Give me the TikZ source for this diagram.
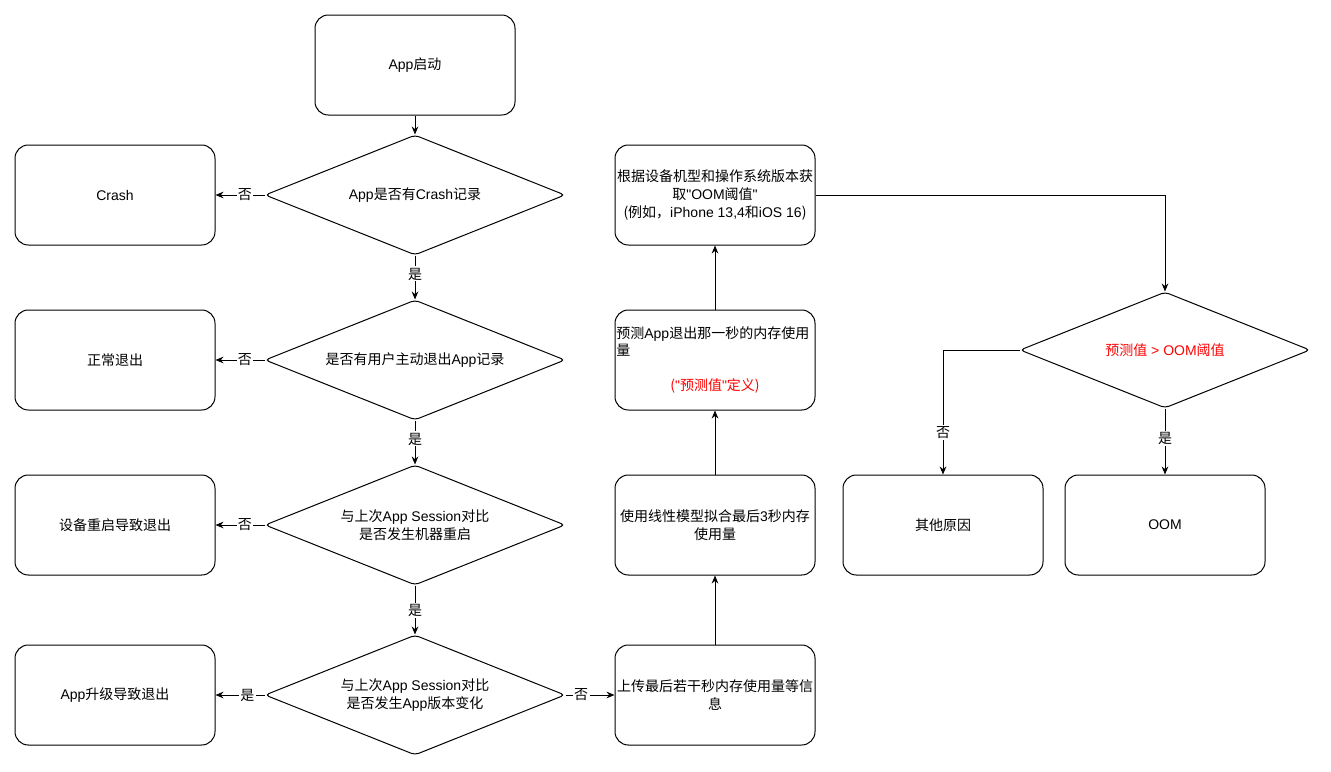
\documentclass[tikz,border=0pt]{standalone}
\usepackage{fontspec}
\setmainfont{Noto Sans CJK SC}
\newfontfamily\latfont{Liberation Sans}
\newcommand\latn[1]{{\latfont #1}}
\usetikzlibrary{shapes.geometric,arrows.meta}
\begin{document}
\begin{tikzpicture}[x=0.75pt,y=-0.75pt,
  every node/.style={font=\fontsize{10.5}{13.2}\selectfont},
  box/.style={draw, line width=0.75pt, rounded corners=10pt, minimum width=150pt, minimum height=75pt, align=center, inner sep=1pt},
  dia/.style={draw, line width=0.75pt, shape=diamond, aspect=2.5, rounded corners=3pt, minimum width=225pt, minimum height=90pt, inner sep=0pt, align=center},
  arr/.style={-{Stealth[length=6pt,width=5pt]}, line width=0.75pt},
  lbl/.style={fill=white, inner sep=1pt}
]
\useasboundingbox (0,0) rectangle (1331,771);
% left column
\node[box] (start) at (415,65) {\latn{App}启动};
\node[dia] (d1) at (415,195) {\latn{App}是否有\latn{Crash}记录};
\node[box] (crash) at (115,195) {\latn{Crash}};
\node[dia] (d2) at (415,360) {是否有用户主动退出\latn{App}记录};
\node[box] (normal) at (115,360) {正常退出};
\node[dia] (d3) at (415,525) {与上次\latn{App Session}对比\\是否发生机器重启};
\node[box] (reboot) at (115,525) {设备重启导致退出};
\node[dia] (d4) at (415,695) {与上次\latn{App Session}对比\\是否发生\latn{App}版本变化};
\node[box] (upgrade) at (115,695) {\latn{App}升级导致退出};
% middle column
\node[box] (upload) at (715,695) {上传最后若干秒内存使用量等信\\息};
\node[box] (fit) at (715,525) {使用线性模型拟合最后\latn{3}秒内存\\使用量};
\node[box, text width=148pt, align=left] (predict) at (715,360) {预测\latn{App}退出那一秒的内存使用\\量\\[13.2pt]\makebox[\linewidth]{\color{red}(\latn{"}预测值\latn{"}定义)}};
\node[box] (thresh) at (715,195) {根据设备机型和操作系统版本获\\取\latn{"OOM}阈值\latn{"}\\(例如，\latn{iPhone 13,4}和\latn{iOS 16})};
% right
\node[dia, minimum width=217.5pt, minimum height=87pt] (d5) at (1165,350) {\color{red}预测值\latn{ > OOM}阈值};
\node[box] (other) at (943,525) {其他原因};
\node[box] (oom) at (1165,525) {\latn{OOM}};
% edges
\draw[arr] (start.south) -- (d1.north);
\draw[arr] (d1.west) -- node[lbl, pos=0.4] {否} (crash.east);
\draw[arr] (d1.south) -- node[lbl, pos=0.42] {是} (d2.north);
\draw[arr] (d2.west) -- node[lbl, pos=0.4] {否} (normal.east);
\draw[arr] (d2.south) -- node[lbl, pos=0.42] {是} (d3.north);
\draw[arr] (d3.west) -- node[lbl, pos=0.4] {否} (reboot.east);
\draw[arr] (d3.south) -- node[lbl, pos=0.5] {是} (d4.north);
\draw[arr] (d4.west) -- node[lbl, pos=0.35] {是} (upgrade.east);
\draw[arr] (d4.east) -- node[lbl, pos=0.32] {否} (upload.west);
\draw[arr] (upload.north) -- (fit.south);
\draw[arr] (fit.north) -- (predict.south);
\draw[arr] (predict.north) -- (thresh.south);
\draw[arr] (thresh.east) -| (d5.north);
\draw[arr] (d5.west) -| node[lbl, pos=0.83] {否} (other.north);
\draw[arr] (d5.south) -- node[lbl, pos=0.45] {是} (oom.north);
\end{tikzpicture}
\end{document}
